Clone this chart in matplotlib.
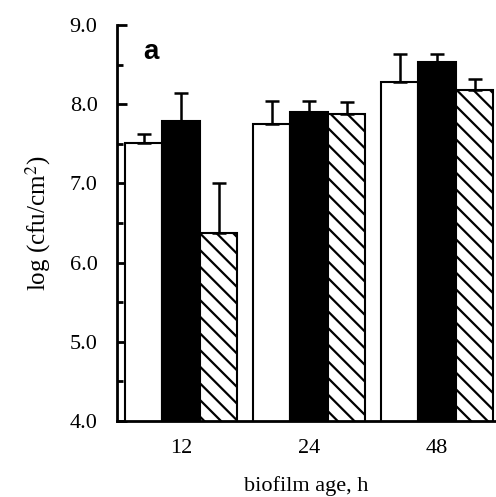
import numpy as np
import matplotlib
matplotlib.use('Agg')
import matplotlib.pyplot as plt

# biofilm age groups and bar values
ages = ['12', '24', '48']
white = [7.51, 7.75, 8.28]
white_err = [0.11, 0.29, 0.35]
black = [7.79, 7.90, 8.53]
black_err = [0.35, 0.14, 0.10]
hatched = [6.38, 7.88, 8.18]
hatched_err = [0.62, 0.15, 0.14]

plt.rcParams['font.family'] = ['Liberation Serif', 'DejaVu Serif']
plt.rcParams['mathtext.fontset'] = 'stix'
plt.rcParams['hatch.linewidth'] = 1.6

fig = plt.figure(figsize=(4.96, 4.97), dpi=100)
ax = fig.add_axes([117/496, 1-421/497, 1-117/496, (421-25)/497])

x = np.arange(len(ages))
w = 0.293
err_kw = dict(elinewidth=1.8, capsize=4.8, capthick=1.8, ecolor='black')

ax.bar(x - w, white, w, color='white', edgecolor='black', linewidth=1.5,
       yerr=[np.zeros(3), white_err], error_kw=err_kw, zorder=2)
ax.bar(x, black, w, color='black', edgecolor='black', linewidth=1.5,
       yerr=[np.zeros(3), black_err], error_kw=err_kw, zorder=2)
ax.bar(x + w, hatched, w, color='white', edgecolor='black', linewidth=1.5,
       hatch='\\\\', yerr=[np.zeros(3), hatched_err], error_kw=err_kw, zorder=2)

ax.set_xlim(-0.5, 2.46)
ax.set_ylim(4.0, 9.0)
ax.set_xticks(x)
ax.set_xticklabels(ages)
ax.set_yticks(np.arange(4, 9.01, 1.0))
ax.set_yticklabels(['%.1f' % v for v in np.arange(4, 9.01, 1.0)])
ax.set_yticks(np.arange(4.5, 9, 1.0), minor=True)

ax.spines['top'].set_visible(False)
ax.spines['right'].set_visible(False)
ax.spines['left'].set_linewidth(2)
ax.spines['bottom'].set_linewidth(2)
ax.tick_params(axis='y', which='major', direction='in', length=7, width=2,
               labelsize=16, pad=14)
ax.tick_params(axis='y', which='minor', direction='in', length=4, width=2)
ax.tick_params(axis='x', length=0, labelsize=16, pad=13)

ax.set_ylabel('log (cfu/cm$^2$)', fontsize=18, labelpad=12)
ax.set_xlabel('biofilm age, h', fontsize=16, labelpad=13)

ax.text(0.07, 0.965, 'a', transform=ax.transAxes, fontsize=20,
        fontweight='bold', family='Liberation Sans', va='top', ha='left')

fig.savefig('out.png', dpi=100)
